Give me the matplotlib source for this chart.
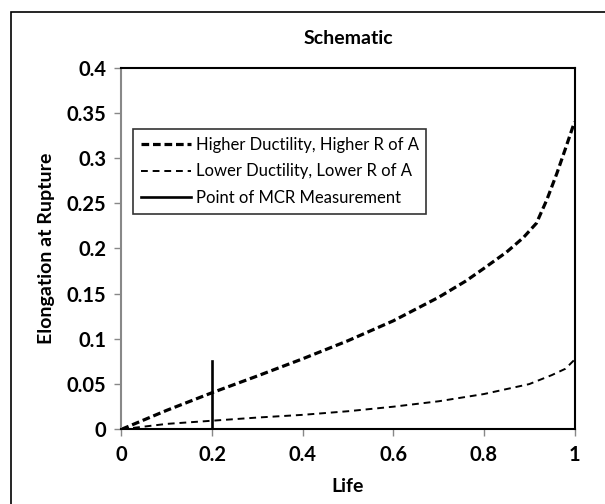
import numpy as np
from matplotlib import pyplot as plt
from matplotlib.patches import Rectangle

life_hi = [0, 0.1, 0.2, 0.3, 0.4, 0.5, 0.6, 0.7, 0.76, 0.8, 0.85, 0.887, 0.916, 0.939, 0.961, 0.979, 1.0]
elong_hi = [0, 0.021, 0.0405, 0.059, 0.078, 0.098, 0.12, 0.146, 0.164, 0.178, 0.196, 0.212, 0.228, 0.254, 0.283, 0.309, 0.34]

life_lo = [0, 0.1, 0.2, 0.3, 0.4, 0.5, 0.6, 0.7, 0.8, 0.9, 0.95, 0.98, 1.0]
elong_lo = [0, 0.006, 0.0095, 0.013, 0.016, 0.020, 0.025, 0.031, 0.039, 0.050, 0.060, 0.067, 0.077]

mcr_life = [0.2, 0.2]
mcr_elong = [0, 0.076]

labels = ['Higher Ductility, Higher R of A',
          'Lower Ductility, Lower R of A',
          'Point of MCR Measurement']

xticks = [0, 0.2, 0.4, 0.6, 0.8, 1.0]
xtick_labels = ['0', '0.2', '0.4', '0.6', '0.8', '1']
yticks = [0, 0.05, 0.1, 0.15, 0.2, 0.25, 0.3, 0.35, 0.4]
ytick_labels = ['0', '0.05', '0.1', '0.15', '0.2', '0.25', '0.3', '0.35', '0.4']

plt.rcParams['font.family'] = ['Lato', 'DejaVu Sans']

fig = plt.figure(figsize=(6.05, 5.04), dpi=100)
ax = fig.add_axes([0.2008, 0.1482, 0.7488, 0.7175])

# outer chart border (only left/top visible in the crop)
fig.patches.append(Rectangle((11.5 / 605, -0.1), 1.2, (504 - 11.5) / 504 + 0.1,
                             transform=fig.transFigure, fill=False,
                             edgecolor='black', linewidth=1.2))

ax.plot(life_hi, elong_hi, color='black', lw=2.3, ls=(0, (2.4, 1.2)),
        label=labels[0])
ax.plot(life_lo, elong_lo, color='black', lw=1.4, ls=(0, (3.5, 2.5)),
        label=labels[1])
ax.plot(mcr_life, mcr_elong, color='black', lw=1.9, label=labels[2])

ax.set_xlim(0, 1)
ax.set_ylim(0, 0.4)
ax.set_xticks(xticks)
ax.set_xticklabels(xtick_labels)
ax.set_yticks(yticks)
ax.set_yticklabels(ytick_labels)
ax.tick_params(axis='both', direction='out', length=5, width=1, color='#888888',
               labelsize=14.5, pad=6)
for lab in ax.get_xticklabels() + ax.get_yticklabels():
  lab.set_fontweight('bold')

ax.spines['left'].set_color('#888888')
ax.spines['left'].set_linewidth(1.5)
for side in ['top', 'right', 'bottom']:
  ax.spines[side].set_color('black')
  ax.spines[side].set_linewidth(1.5)

ax.set_title('Schematic', fontsize=14, fontweight='bold', pad=17)
ax.set_xlabel('Life', fontsize=14, fontweight='bold', labelpad=10)
ax.set_ylabel('Elongation at Rupture', fontsize=14, fontweight='bold', labelpad=8)

leg = ax.legend(loc='upper left', bbox_to_anchor=(0.026, 0.83), fontsize=12,
                frameon=True, fancybox=False, handlelength=3.0,
                handletextpad=0.3, borderpad=0.45, labelspacing=0.65,
                borderaxespad=0)
leg.get_frame().set_edgecolor('black')
leg.get_frame().set_linewidth(1.2)

fig.savefig('out.png', dpi=100)
